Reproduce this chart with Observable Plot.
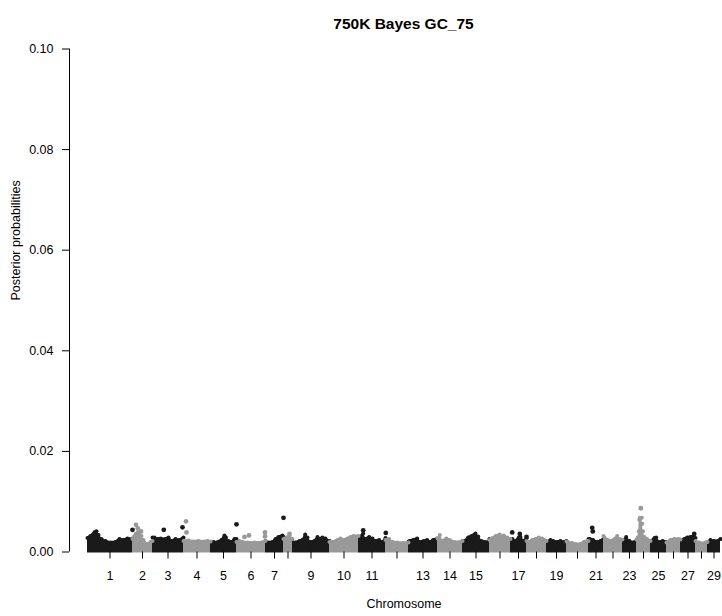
<!DOCTYPE html>
<html>
<head>
<meta charset="utf-8">
<script src="https://cdn.jsdelivr.net/npm/d3@7"></script>
<script src="https://cdn.jsdelivr.net/npm/@observablehq/plot@0.6"></script>
<style>
  html, body { margin: 0; padding: 0; background: #fff; }
</style>
</head>
<body>
<div id="chart"></div>
<script>
// ---- Data ----
const chromosomes = ["1","2","3","4","5","6","7","8","9","10","11","12","13","14","15","16","17","18","19","20","21","22","23","24","25","26","27","28","29"];
// relative chromosome lengths on the plotted axis
const chrLengths = [45,20,31,27,26,29,18,9,37,29,27,23,29,25,27,21,16,20,20,22,15,19,14,14,16,14,15,12,13];
// tick labels printed under the axis (R drops overlapping ones)
const tickLabels = ["1","2","3","4","5","6","7","","9","10","11","","13","14","15","","17","","19","","21","","23","","25","","27","","29"];
const yTicks = [0, 0.02, 0.04, 0.06, 0.08, 0.10];

// upper envelope of the dense SNP band per chromosome: [position within chromosome, posterior probability]
const bandTop = [
  [[0,.0032],[3,.0036],[7,.0043],[9,.0045],[11,.0038],[14,.0030],[18,.0026],[23,.0023],[28,.0024],[32,.0030],[36,.0028],[40,.0031],[45,.0030]],
  [[0,.0030],[1,.0034],[3,.0040],[5,.0043],[7,.0039],[9,.0036],[11,.0028],[12,.0023],[15,.0020],[18,.0024],[20,.0026]],
  [[0,.0033],[2,.0033],[5,.0030],[8,.0031],[13,.0030],[16,.0033],[20,.0026],[23,.0030],[27,.0028],[31,.0033]],
  [[0,.0026],[5,.0027],[10,.0025],[15,.0026],[20,.0025],[24,.0026],[27,.0025]],
  [[0,.0020],[3,.0024],[6,.0023],[11,.0028],[14,.0037],[15.5,.0033],[18,.0026],[21,.0024],[24,.0030],[26,.0030]],
  [[0,.0024],[3,.0026],[6,.0024],[11,.0023],[18,.0023],[25,.0023],[29,.0026]],
  [[0,.0026],[3,.0023],[7,.0024],[10,.0030],[13,.0034],[17,.0037],[18,.0034]],
  [[0,.0030],[3,.0033],[6,.0036],[9,.0030]],
  [[0,.0024],[3,.0023],[7,.0026],[10,.0028],[12.7,.0039],[15,.0033],[18,.0024],[22,.0026],[25,.0034],[27,.0030],[30,.0033],[33,.0031],[37,.0026]],
  [[0,.0024],[3,.0024],[8,.0028],[11,.0031],[15,.0028],[18,.0031],[21,.0034],[24,.0036],[29,.0036]],
  [[0,.0033],[1,.0033],[4.7,.0041],[7,.0030],[10.7,.0034],[14,.0031],[17,.0026],[20.7,.0028],[24,.0024],[27,.0032]],
  [[0,.0028],[3.7,.0030],[7,.0024],[12,.0023],[17.7,.0022],[23,.0023]],
  [[0,.0025],[1.3,.0026],[4.7,.0028],[8.7,.0031],[12,.0024],[15.3,.0026],[18.7,.0028],[21.3,.0024],[24.7,.0028],[29,.0031]],
  [[0,.0031],[2.3,.0038],[5,.0026],[9,.0031],[12.3,.0028],[17.3,.0024],[22.3,.0024],[25,.0026]],
  [[0,.0026],[2.3,.0026],[5.7,.0033],[9,.0036],[13,.0041],[15.7,.0035],[19,.0026],[22.3,.0024],[25.7,.0024],[27,.0030]],
  [[0,.0028],[2,.0031],[6.3,.0036],[10.3,.0039],[13,.0034],[14.3,.0037],[17.7,.0033],[21,.0030]],
  [[0,.0024],[2,.0030],[5,.0026],[8.3,.0033],[10,.0034],[13.3,.0026],[16,.0031]],
  [[0,.0026],[2.3,.0024],[5.7,.0028],[9,.0030],[12.3,.0033],[15.7,.0031],[18,.0028],[20,.0026]],
  [[0,.0023],[4,.0028],[6.7,.0026],[10.7,.0024],[14,.0026],[17.3,.0024],[20,.0026]],
  [[0,.0025],[2.3,.0023],[5.7,.0022],[9,.0020],[14,.0020],[17.3,.0024],[20.7,.0026],[22,.0026]],
  [[0,.0030],[1.3,.0030],[4.7,.0028],[8.7,.0024],[12,.0026],[15,.0030]],
  [[0,.0036],[1,.0033],[4.3,.0028],[7.7,.0026],[11,.0030],[13.7,.0036],[16,.0030],[19,.0029]],
  [[0,.0023],[1.3,.0028],[3.7,.0034],[7,.0026],[10.3,.0023],[14,.0026]],
  [[0,.0029],[1.3,.0033],[2.3,.0045],[2.8,.0068],[3.3,.0072],[5.3,.0072],[5.8,.0060],[6.5,.0045],[8,.0034],[10.7,.0030],[14,.0026]],
  [[0,.0026],[0.7,.0026],[4,.0032],[5.7,.0033],[9,.0024],[12.3,.0026],[16,.0024]],
  [[0,.0023],[4,.0028],[8,.0030],[12,.0030],[14,.0029]],
  [[0,.0028],[4,.0030],[6.7,.0033],[10,.0034],[13.3,.0036],[15,.0032]],
  [[0,.0026],[4,.0023],[7.3,.0021],[10,.0023],[12,.0024]],
  [[0,.0023],[3,.0028],[6.3,.0026],[10.3,.0026],[13,.0030]]
];

// isolated SNPs standing above the band: [chromosome index (1-based), position, posterior probability]
const topSnps = [
  [1,45,.0044],[2,3.5,.0054],[2,5.3,.0047],[2,8.5,.0041],[3,11.3,.0044],[3,30,.0049],
  [4,2.5,.0061],[4,3,.0039],[5,26,.0055],[6,8,.0030],[6,12.5,.0033],[6,28.5,.0039],
  [6,28.5,.0031],[7,18,.0068],[8,6,.0036],[11,4.7,.0043],[11,27.3,.0038],[17,1.7,.0039],
  [17,9.3,.0036],[17,16,.0030],[21,3.7,.0048],[21,4.3,.0041],[24,4.3,.0087],[27,13.7,.0036]
];

// ---- Build tables ----
const starts = [];
let acc = 0;
for (const L of chrLengths) { starts.push(acc); acc += L; }
const mids = chrLengths.map((L, i) => starts[i] + L / 2);
const labelByMid = new Map(mids.map((m, i) => [m, tickLabels[i]]));

const bandRows = [];
bandTop.forEach((pts, i) => {
  for (const [pos, p] of pts) bandRows.push({chr: i + 1, x: starts[i] + pos, p});
});
const snpRows = topSnps.map(([c, pos, p]) => ({chr: c, x: starts[c - 1] + pos, p}));

const BLACK = "#1a1a1a", GREY = "#999999";
const odd = d => d.chr % 2 === 1;
const even = d => d.chr % 2 === 0;

const xMin = -18, xMax = 635;

const chart = Plot.plot({
  width: 722,
  height: 616,
  marginLeft: 69,
  marginRight: 0,
  marginTop: 48.5,
  marginBottom: 64.5,
  style: {fontFamily: "'Liberation Sans', Arial, sans-serif", fontSize: "12.5px", color: "#000", background: "#fff"},
  x: {domain: [xMin, xMax]},
  y: {domain: [0, 0.1]},
  marks: [
    Plot.areaY(bandRows.filter(odd), {x: "x", y: "p", z: "chr", fill: BLACK, curve: "linear", dy: 1}),
    Plot.dot(bandRows.filter(odd), {x: "x", y: "p", r: 2, dy: 2, fill: BLACK}),
    Plot.areaY(bandRows.filter(even), {x: "x", y: "p", z: "chr", fill: GREY, curve: "linear", dy: 1}),
    Plot.dot(bandRows.filter(even), {x: "x", y: "p", r: 2, dy: 2, fill: GREY}),
    Plot.dot(snpRows, {x: "x", y: "p", r: 2.4, fill: d => odd(d) ? BLACK : GREY}),
    Plot.ruleX([xMin], {y1: 0, y2: 0.1, stroke: "#000"}),
    Plot.axisY({ticks: yTicks, tickFormat: d3.format(".2f"), tickSize: 7, tickPadding: 9, label: null, stroke: "#000"}),
    Plot.axisX({ticks: mids, tickFormat: d => labelByMid.get(d), tickSize: 7, tickPadding: 12, label: null}),
    Plot.text(["750K Bayes GC_75"], {text: d => d, frameAnchor: "top", dx: 7.5, dy: -31.5, fontWeight: "bold", fontSize: 15.5}),
    Plot.text(["Chromosome"], {text: d => d, frameAnchor: "bottom", dx: 8, dy: 55.5}),
    Plot.text(["Posterior probabilities"], {text: d => d, frameAnchor: "left", rotate: -90, dx: -54})
  ]
});
document.getElementById("chart").appendChild(chart);
</script>
</body>
</html>
